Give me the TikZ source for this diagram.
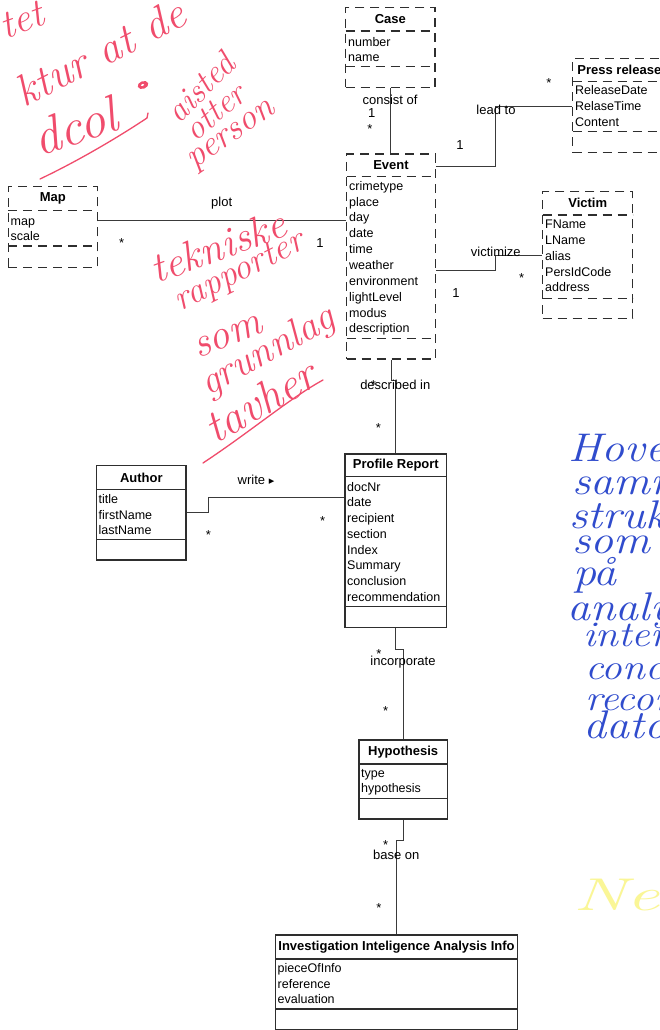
\documentclass[tikz,border=0pt]{standalone}
\usepackage{fontspec}
\setmainfont{Liberation Sans}
\newfontfamily\symfont{DejaVu Sans}
\newfontfamily\handfont{Latin Modern Roman}
\usetikzlibrary{fit,calc}

\definecolor{boxline}{HTML}{2E2E2E}
\definecolor{pen}{HTML}{3A3A3A}
\definecolor{inkred}{RGB}{240,76,108}
\definecolor{inkblue}{RGB}{48,76,205}
\definecolor{marker}{RGB}{250,246,150}

\tikzset{
  dashedclass/.style={draw=boxline, line width=1.2pt, dash pattern=on 9pt off 6pt},
  solidclass/.style={draw=boxline, line width=1.1pt},
  classtitle/.style={font=\fontsize{13}{15}\selectfont\bfseries, inner sep=0},
  attr/.style={font=\fontsize{12.5}{15}\selectfont, anchor=base west, inner sep=0},
  lbl/.style={font=\fontsize{13}{15}\selectfont, inner sep=0},
  assoc/.style={draw=pen, line width=0.9pt},
  hand/.style={font=\handfont\itshape\fontsize{#1}{#1}\selectfont, inner sep=0},
  hand/.default=40,
}

% class box: name, style, left, top, right, bottom, first rule, second rule, title
\newcommand\umlclass[9]{%
  \node[#2, inner sep=0, fit={(#3,#4) (#5,#6)}] (#1) {};
  \draw[#2] (#3,#7) -- (#5,#7);
  \draw[#2] (#3,#8) -- (#5,#8);
  \node[classtitle] (#1-title) at ({(#3+#5)/2},{(#4+#7)/2}) {#9};
}
% attribute list: name, x, first baseline, line step, items
\newcommand\umlattrs[5]{%
  \foreach \t [count=\i from 0] in {#5}
    \node[attr] (#1-a\i) at (#2,{#3+#4*\i}) {\t};
}

\begin{document}
\begin{tikzpicture}[x=1pt,y=-1pt]
\useasboundingbox (0,0) rectangle (660,1030);
\fill[white] (0,0) rectangle (660,1030);
\clip (0,0) rectangle (660,1030);

% ---------- classes ----------
\umlclass{case}{dashedclass}{345.7}{7.3}{435}{87.3}{31}{66.7}{Case}
\umlattrs{case}{348}{46.5}{15}{number,name}

\umlclass{press}{dashedclass}{572.7}{58.3}{666}{152.7}{81.7}{131.7}{Press release}
\umlattrs{press}{575}{94.5}{15.8}{ReleaseDate,RelaseTime,Content}

\umlclass{event}{dashedclass}{346.7}{154}{435.3}{359}{176.7}{338.3}{Event}
\umlattrs{event}{349}{190.2}{15.85}{crimetype,place,day,date,time,weather,environment,lightLevel,modus,description}

\umlclass{victim}{dashedclass}{542.7}{191.7}{632.7}{318.3}{215}{298.3}{Victim}
\umlattrs{victim}{545}{228.8}{15.75}{FName,LName,alias,PersIdCode,address}

\umlclass{map}{dashedclass}{8.3}{186.7}{97.3}{267.3}{210.7}{246}{Map}
\umlattrs{map}{10.5}{225.5}{15}{map,scale}

\umlclass{author}{solidclass}{96.7}{465.7}{186}{560}{489.3}{539.3}{Author}
\umlattrs{author}{98.5}{503.5}{15.6}{title,firstName,lastName}

\umlclass{report}{solidclass}{345}{454}{446.7}{627.3}{476.7}{606.7}{Profile Report}
\umlattrs{report}{347}{491.2}{15.7}{docNr,date,recipient,section,Index,Summary,conclusion,recommendation}

\umlclass{hyp}{solidclass}{359}{740}{447.3}{819}{764}{798.3}{Hypothesis}
\umlattrs{hyp}{361}{777.8}{15}{type,hypothesis}

\umlclass{info}{solidclass}{275.7}{935}{517.3}{1029.3}{959}{1009}{Investigation Inteligence Analysis Info}
\umlattrs{info}{277.5}{972.8}{15.5}{pieceOfInfo,reference,evaluation}

% ---------- associations ----------
\draw[assoc] (case.south) -- (case.south |- event.north);
\node[lbl] (l-consist) at (390,100) {consist of};
\node[lbl] (m-consist1) at (371.7,113) {1};
\node[lbl] (m-consist2) at (370,129) {*};

\coordinate (leadbend) at (495.7,106);
\draw[assoc] (event.east |- 0,166.7) -| (leadbend) -- (leadbend -| press.west);
\node[lbl] (l-lead) at (496,110) {lead to};
\node[lbl] (m-lead1) at (549,83) {*};
\node[lbl] (m-lead2) at (460,145) {1};

\coordinate (vicbend) at (495.7,255.7);
\draw[assoc] (event.east |- 0,270) -| (vicbend) -- (vicbend -| victim.west);
\node[lbl] (l-vic) at (495.8,251.7) {victimize};
\node[lbl] (m-vic1) at (521.7,278) {*};
\node[lbl] (m-vic2) at (456,292.7) {1};

\draw[assoc] (map.east |- 0,220.5) -- (event.west |- 0,220.5);
\node[lbl] (l-plot) at (221.7,203.3) {plot};
\node[lbl] (m-plot1) at (121.7,243) {*};
\node[lbl] (m-plot2) at (320,243.3) {1};

\coordinate (descbend) at (395.7,380);
\draw[assoc] (event.south) |- (descbend) -- (descbend |- report.north);
\node[lbl] (l-desc) at (395.3,385) {described in};
\node[lbl] (m-desc1) at (373.3,384.7) {*};
\node[lbl] (m-desc2) at (378.3,428) {*};

\coordinate (writebend) at (208.3,497.3);
\draw[assoc] (author.east |- 0,512.7) -| (writebend) -- (writebend -| report.west);
\node[lbl] (l-write) at (256,480) {write {\symfont\fontsize{11}{11}\selectfont ▸}};
\node[lbl] (m-write1) at (208.3,534.7) {*};
\node[lbl] (m-write2) at (322.7,520.7) {*};

\coordinate (incbend) at (403,649.3);
\draw[assoc] (report.south) |- (incbend) -- (incbend |- hyp.north);
\node[lbl] (m-inc1) at (379,653.7) {*};
\node[lbl] (l-inc) at (403,661.7) {incorporate};
\node[lbl] (m-inc2) at (385.7,711.3) {*};

\coordinate (basebend) at (396,840);
\draw[assoc] (hyp.south) |- (basebend) -- (basebend |- info.north);
\node[lbl] (m-base1) at (385.7,844.7) {*};
\node[lbl] (l-base) at (396.3,855) {base on};
\node[lbl] (m-base2) at (379,908) {*};

% ---------- red pen notes ----------
\begin{scope}[inkred]
\node[hand=40, rotate=20] (r-tet) at (22,20) {tet};
\node[hand=44, rotate=27] (r-ktur) at (100,52) {ktur at de};
\node[hand=52, rotate=18] (r-dcol) at (75,126) {dcol};
\fill (143,85) ellipse [x radius=5.5, y radius=3.8, rotate=20];
\fill[white] (142.5,85) ellipse [x radius=1.8, y radius=1.1, rotate=20];
\draw[line width=1.3pt, line cap=round] (40,179) .. controls (80,160) and (120,136) .. (147,118) -- (148,113);
\node[hand=34, rotate=45] (r-aisted) at (200,87) {aisted};
\node[hand=34, rotate=40] (r-otter) at (215,112) {otter};
\node[hand=36, rotate=35] (r-person) at (233,137) {person};

\node[hand=42, rotate=20] (r-tek) at (218,246) {tekniske};
\node[hand=36, rotate=27] (r-rap) at (240,273) {rapporter};
\node[hand=42, rotate=22] (r-som) at (228,337) {som};
\node[hand=40, rotate=29] (r-grunn) at (268,352) {grunnlag};
\node[hand=46, rotate=30] (r-tav) at (260,401) {tavher};
\draw[line width=1.3pt, line cap=round] (203,463) .. controls (250,432) and (290,398) .. (323,380);
\end{scope}

% ---------- blue pen notes ----------
\begin{scope}[inkblue]
\node[hand=40, anchor=west, xscale=1.15] (b1) at (568,452) {Hovedsakelig};
\node[hand=40, anchor=west, xscale=1.15] (b2) at (572,486) {samme};
\node[hand=40, anchor=west, xscale=1.15] (b3) at (569,515) {struktur};
\node[hand=40, anchor=west, xscale=1.15] (b4) at (572,545) {som};
\node[hand=40, anchor=west, xscale=1.15] (b5) at (573,575) {på};
\node[hand=40, anchor=west, xscale=1.15] (b6) at (567,611) {analyse};
\node[hand=36, anchor=west, xscale=1.15] (b7) at (583,638) {interpretation};
\node[hand=36, anchor=west, xscale=1.15] (b8) at (585,667) {conclusion};
\node[hand=36, anchor=west, xscale=1.15] (b9) at (585,698) {recommendation};
\node[hand=40, anchor=west, xscale=1.15] (b10) at (583,725) {dato};
\end{scope}
\node[hand=46, anchor=west, xscale=1.6, text=marker] (y1) at (573,895) {Nei};
\end{tikzpicture}
\end{document}
